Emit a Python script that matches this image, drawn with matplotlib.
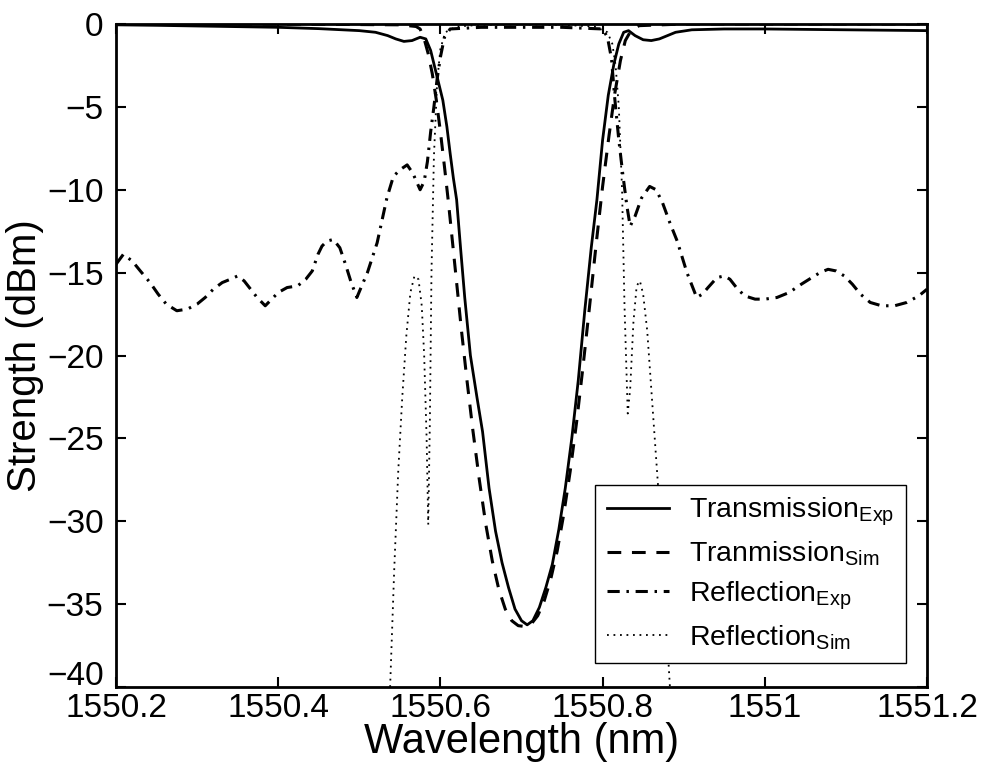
import matplotlib
matplotlib.use("Agg")
import matplotlib.pyplot as plt
from matplotlib.transforms import Affine2D

plt.rcParams['font.family'] = ['Liberation Sans', 'DejaVu Sans']
plt.rcParams['mathtext.fontset'] = 'custom'
plt.rcParams['mathtext.rm'] = 'Liberation Sans'
plt.rcParams['mathtext.it'] = 'Liberation Sans'

# ---- data (wavelength in nm, strength in dBm) ----
x_tx = [1550.20, 1550.25, 1550.30, 1550.35, 1550.40, 1550.45, 1550.50, 1550.52, 1550.535,
        1550.545, 1550.555, 1550.565, 1550.575, 1550.582, 1550.588, 1550.593, 1550.598,
        1550.603, 1550.608, 1550.612, 1550.616, 1550.620, 1550.625, 1550.630, 1550.637,
        1550.645, 1550.652, 1550.660, 1550.668, 1550.676, 1550.684, 1550.692, 1550.700,
        1550.707, 1550.714, 1550.722, 1550.730, 1550.738, 1550.746, 1550.754, 1550.762,
        1550.770, 1550.778, 1550.786, 1550.793, 1550.800, 1550.807, 1550.814, 1550.820,
        1550.826, 1550.832, 1550.840, 1550.850, 1550.860, 1550.870, 1550.880, 1550.890,
        1550.91, 1550.95, 1551.0, 1551.1, 1551.2]
y_tx = [-0.05, -0.08, -0.12, -0.16, -0.2, -0.28, -0.4, -0.5, -0.7,
        -0.9, -1.05, -1.0, -0.8, -0.9, -1.6, -2.6, -3.6,
        -4.6, -6.2, -7.8, -9.3, -10.6, -13.6, -16.5, -20.0,
        -22.5, -24.6, -28.0, -30.6, -32.5, -34.0, -35.3, -36.0,
        -36.25, -36.0, -35.2, -34.0, -32.6, -30.5, -28.0, -25.0,
        -21.5, -17.3, -13.5, -10.6, -7.0, -4.3, -2.4, -1.2,
        -0.5, -0.4, -0.7, -0.95, -1.0, -0.9, -0.7, -0.5,
        -0.35, -0.3, -0.3, -0.35, -0.4]

x_ts = [1550.20, 1550.40, 1550.55, 1550.570, 1550.575, 1550.580, 1550.585, 1550.590,
        1550.595, 1550.600, 1550.605, 1550.610, 1550.615, 1550.620, 1550.626, 1550.633,
        1550.640, 1550.648, 1550.656, 1550.664, 1550.672, 1550.680, 1550.688, 1550.696,
        1550.704, 1550.712, 1550.720, 1550.728, 1550.736, 1550.744, 1550.752, 1550.760,
        1550.768, 1550.776, 1550.784, 1550.792, 1550.800, 1550.808, 1550.815, 1550.822,
        1550.828, 1550.835, 1550.845, 1550.90, 1551.2]
y_ts = [0.0, 0.0, -0.05, -0.15, -0.3, -0.9, -1.8, -3.0,
        -4.6, -6.5, -8.6, -10.8, -13.2, -15.6, -18.5, -21.6,
        -24.5, -27.5, -30.2, -32.4, -34.1, -35.3, -36.0, -36.3,
        -36.35, -36.2, -35.7, -34.8, -33.5, -31.8, -29.6, -27.0,
        -24.0, -20.6, -17.0, -13.3, -9.8, -6.7, -4.2, -2.2,
        -1.0, -0.4, -0.1, 0.0, 0.0]

x_re = [1550.200, 1550.209, 1550.220, 1550.230, 1550.242, 1550.252, 1550.262, 1550.275,
        1550.288, 1550.300, 1550.310, 1550.320, 1550.331, 1550.341, 1550.350, 1550.358,
        1550.366, 1550.374, 1550.384, 1550.392, 1550.400, 1550.411, 1550.424, 1550.434,
        1550.442, 1550.449, 1550.454, 1550.460, 1550.468, 1550.476, 1550.483, 1550.490,
        1550.497, 1550.503, 1550.510, 1550.522, 1550.534, 1550.542, 1550.550, 1550.559,
        1550.566, 1550.575, 1550.580, 1550.584, 1550.588, 1550.592, 1550.596, 1550.600,
        1550.605, 1550.612, 1550.65, 1550.70, 1550.75, 1550.80, 1550.806, 1550.811,
        1550.815, 1550.820, 1550.825, 1550.830, 1550.834, 1550.840, 1550.848, 1550.858,
        1550.866, 1550.874, 1550.883, 1550.892, 1550.904, 1550.916, 1550.923, 1550.930,
        1550.941, 1550.950, 1550.957, 1550.965, 1550.975, 1550.988, 1551.000, 1551.015,
        1551.030, 1551.045, 1551.058, 1551.068, 1551.078, 1551.088, 1551.098, 1551.108,
        1551.118, 1551.130, 1551.144, 1551.160, 1551.175, 1551.190, 1551.200]
y_re = [-14.5, -13.9, -14.3, -14.9, -15.6, -16.3, -16.9, -17.3,
        -17.2, -16.9, -16.5, -16.0, -15.6, -15.4, -15.2, -15.5,
        -16.0, -16.5, -17.0, -16.6, -16.2, -15.9, -15.8, -15.4,
        -14.9, -13.9, -13.4, -13.1, -13.0, -13.5, -14.5, -15.6,
        -16.5, -15.8, -15.0, -13.2, -10.5, -9.2, -8.8, -8.5,
        -9.0, -10.0, -9.5, -8.3, -6.5, -5.0, -3.3, -2.0,
        -0.8, -0.3, -0.2, -0.2, -0.2, -0.3, -0.8, -2.1,
        -4.5, -7.0, -9.1, -11.0, -12.2, -11.6, -10.5, -9.8,
        -10.0, -10.8, -12.0, -13.1, -15.0, -16.5, -16.3, -15.9,
        -15.3, -15.2, -15.4, -15.9, -16.4, -16.6, -16.6, -16.5,
        -16.2, -15.7, -15.3, -15.0, -14.8, -14.9, -15.2, -15.7,
        -16.3, -16.8, -17.0, -17.0, -16.8, -16.4, -16.0]

x_rs = [1550.538, 1550.543, 1550.548, 1550.553, 1550.558, 1550.563, 1550.568, 1550.573,
        1550.577, 1550.580, 1550.583, 1550.585, 1550.587, 1550.589, 1550.592, 1550.596,
        1550.600, 1550.606, 1550.62, 1550.65, 1550.70, 1550.75, 1550.79, 1550.806,
        1550.812, 1550.816, 1550.820, 1550.824, 1550.827, 1550.831, 1550.834, 1550.838,
        1550.842, 1550.846, 1550.850, 1550.855, 1550.860, 1550.865, 1550.870, 1550.876,
        1550.883]
y_rs = [-40.0, -33.0, -27.0, -22.5, -18.8, -16.2, -15.2, -15.4,
        -17.0, -20.0, -25.0, -30.2, -24.0, -15.0, -8.0, -3.5,
        -1.5, -0.5, -0.15, -0.05, -0.02, -0.05, -0.15, -0.5,
        -1.2, -2.5, -5.0, -10.0, -17.0, -23.5, -22.0, -18.0,
        -15.8, -15.5, -16.3, -18.5, -22.0, -25.5, -29.0, -34.0,
        -40.0]

labels = [r'Transmission$_{\mathrm{Exp}}$', r'Tranmission$_{\mathrm{Sim}}$',
          r'Reflection$_{\mathrm{Exp}}$', r'Reflection$_{\mathrm{Sim}}$']
x_ticks = [1550.2, 1550.4, 1550.6, 1550.8, 1551.0, 1551.2]
x_tick_labels = ['1550.2', '1550.4', '1550.6', '1550.8', '1551', '1551.2']
y_ticks = [0, -5, -10, -15, -20, -25, -30, -35, -40]

fig = plt.figure(figsize=(9.88, 7.72), dpi=100)
ax = fig.add_axes([116/988, 1 - 687/772, (927-116)/988, (687-24)/772])

ax.plot(x_tx, y_tx, color='black', lw=2.0, label=labels[0])
ax.plot(x_ts, y_ts, color='black', lw=2.2, dashes=(4.5, 3.5), label=labels[1])
ax.plot(x_re, y_re, color='black', lw=2.2, dashes=(4.0, 2.2, 0.8, 2.2), label=labels[2])
ax.plot(x_rs, y_rs, color='black', lw=1.3, dashes=(1.0, 2.6), label=labels[3])

ax.set_xlim(1550.2, 1551.2)
ax.set_ylim(-40, 0)
ax.set_xticks(x_ticks)
ax.set_xticklabels(x_tick_labels)
ax.set_yticks(y_ticks)
ax.set_yticklabels(['0'] + ['\u2212%d' % (-v) for v in y_ticks[1:]])
ax.tick_params(direction='in', length=7, width=1.5, labelsize=24,
               top=True, right=True)
ax.tick_params(axis='x', pad=4)
ax.tick_params(axis='y', pad=9)
for s in ax.spines.values():
    s.set_linewidth(2.0)

ax.set_xlabel('Wavelength (nm)', fontsize=30, labelpad=-1)
ax.set_ylabel('Strength (dBm)', fontsize=29, labelpad=2)

leg = ax.legend(loc='lower right', bbox_to_anchor=(0.974, 0.036), fontsize=20.5,
                frameon=True, fancybox=False, edgecolor='black', framealpha=1,
                handlelength=2.2, handletextpad=0.7, labelspacing=0.4,
                borderpad=0.4, borderaxespad=0)
leg.get_frame().set_linewidth(1.0)

# nudge the lowest y tick label up just enough so it does not collide with
# the first x tick label in the corner
fig.canvas.draw()
r = fig.canvas.get_renderer()
yl = ax.yaxis.get_major_ticks()[-1].label1
xl = ax.xaxis.get_major_ticks()[0].label1
b1 = yl.get_window_extent(r)
b2 = xl.get_window_extent(r)
ov = b2.y1 - b1.y0
if ov > 0:
    yl.set_transform(yl.get_transform() + Affine2D().translate(0, ov + 1))

fig.savefig('out.png', dpi=100)
